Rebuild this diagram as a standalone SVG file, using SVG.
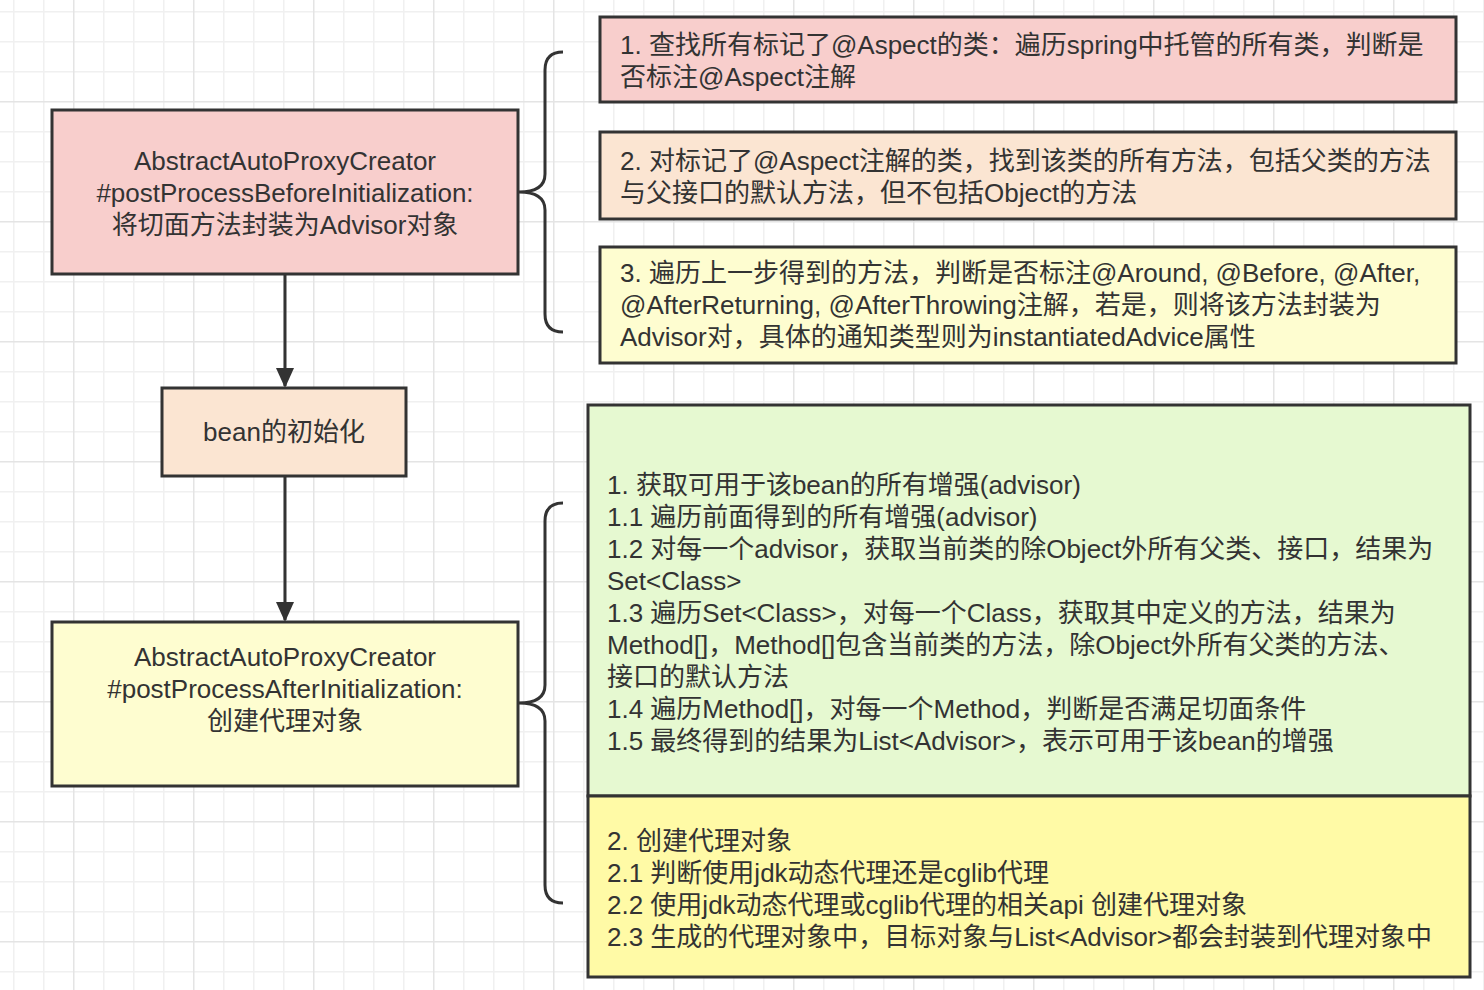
<svg xmlns="http://www.w3.org/2000/svg" width="1484" height="990" viewBox="0 0 1484 990">
<defs>
<pattern id="grid" patternUnits="userSpaceOnUse" x="73" y="101" width="120" height="120">
<rect x="0" y="0" width="120" height="120" fill="#ffffff"/>
<rect x="30" y="0" width="1.5" height="120" fill="#f0f0f0"/>
<rect x="60" y="0" width="1.5" height="120" fill="#f0f0f0"/>
<rect x="90" y="0" width="1.5" height="120" fill="#f0f0f0"/>
<rect x="0" y="30" width="120" height="1.5" fill="#f0f0f0"/>
<rect x="0" y="60" width="120" height="1.5" fill="#f0f0f0"/>
<rect x="0" y="90" width="120" height="1.5" fill="#f0f0f0"/>
<rect x="0" y="0" width="1.5" height="120" fill="#e4e4e4"/>
<rect x="0" y="0" width="120" height="1.5" fill="#e4e4e4"/>
</pattern>
<marker id="arrow" markerUnits="userSpaceOnUse" markerWidth="20" markerHeight="24" refX="18" refY="9" viewBox="0 0 20 18" orient="auto">
<path d="M0,0 L20,9 L0,18 Z" fill="#333333"/>
</marker>
</defs>
<style>
.box{stroke:#333333;stroke-width:3}
.t{font-family:"Liberation Sans","Noto Sans CJK SC",sans-serif;font-size:26px;fill:#333333}
.c{text-anchor:middle}
.edge{stroke:#333333;stroke-width:3;fill:none}
.brace{stroke:#333333;stroke-width:3;fill:none}
</style>
<rect x="0" y="0" width="1484" height="990" fill="url(#grid)"/>

<g id="connectors">
<line class="edge" x1="285" y1="274" x2="285" y2="386" marker-end="url(#arrow)"/>
<line class="edge" x1="285" y1="476" x2="285" y2="620" marker-end="url(#arrow)"/>
<path id="brace-top" class="brace" d="M563,52 Q545,52 545,70 L545,174 Q545,192 519,192 Q545,192 545,210 L545,314 Q545,332 563,332"/>
<path id="brace-bottom" class="brace" d="M563,503 Q545,503 545,521 L545,685 Q545,703 519,703 Q545,703 545,721 L545,885 Q545,903 563,903"/>
</g>

<g id="node-before">
<rect class="box" x="52" y="110" width="466" height="164" fill="#f8cecc"/>
<text class="t c" x="285" y="170">AbstractAutoProxyCreator</text>
<text class="t c" x="285" y="202">#postProcessBeforeInitialization:</text>
<text class="t c" x="285" y="234">将切面方法封装为Advisor对象</text>
</g>

<g id="node-init">
<rect class="box" x="162" y="388" width="244" height="88" fill="#fbe5d2"/>
<text class="t c" x="284" y="441">bean的初始化</text>
</g>

<g id="node-after">
<rect class="box" x="52" y="622" width="466" height="164" fill="#fefdd0"/>
<text class="t c" x="285" y="666">AbstractAutoProxyCreator</text>
<text class="t c" x="285" y="698">#postProcessAfterInitialization:</text>
<text class="t c" x="285" y="730">创建代理对象</text>
</g>

<g id="step-1">
<rect class="box" x="600" y="17" width="856" height="85" fill="#f8cecc"/>
<text class="t" x="620" y="54">1. 查找所有标记了@Aspect的类：遍历spring中托管的所有类，判断是</text>
<text class="t" x="620" y="86">否标注@Aspect注解</text>
</g>

<g id="step-2">
<rect class="box" x="600" y="132" width="856" height="87" fill="#fbe5d2"/>
<text class="t" x="620" y="170">2. 对标记了@Aspect注解的类，找到该类的所有方法，包括父类的方法</text>
<text class="t" x="620" y="202">与父接口的默认方法，但不包括Object的方法</text>
</g>

<g id="step-3">
<rect class="box" x="600" y="247" width="856" height="116" fill="#fefdd0"/>
<text class="t" x="620" y="282">3. 遍历上一步得到的方法，判断是否标注@Around, @Before, @After,</text>
<text class="t" x="620" y="314">@AfterReturning, @AfterThrowing注解，若是，则将该方法封装为</text>
<text class="t" x="620" y="346">Advisor对，具体的通知类型则为instantiatedAdvice属性</text>
</g>

<g id="advisors">
<rect class="box" x="588" y="405" width="882" height="391" fill="#e6f9d1"/>
<text class="t" x="607" y="494">1. 获取可用于该bean的所有增强(advisor)</text>
<text class="t" x="607" y="526">1.1 遍历前面得到的所有增强(advisor)</text>
<text class="t" x="607" y="558">1.2 对每一个advisor，获取当前类的除Object外所有父类、接口，结果为</text>
<text class="t" x="607" y="590">Set&lt;Class&gt;</text>
<text class="t" x="607" y="622">1.3 遍历Set&lt;Class&gt;，对每一个Class，获取其中定义的方法，结果为</text>
<text class="t" x="607" y="654">Method[]，Method[]包含当前类的方法，除Object外所有父类的方法、</text>
<text class="t" x="607" y="686">接口的默认方法</text>
<text class="t" x="607" y="718">1.4 遍历Method[]，对每一个Method，判断是否满足切面条件</text>
<text class="t" x="607" y="750">1.5 最终得到的结果为List&lt;Advisor&gt;，表示可用于该bean的增强</text>
</g>

<g id="create-proxy">
<rect class="box" x="588" y="796" width="882" height="181" fill="#fffaa6"/>
<text class="t" x="607" y="850">2. 创建代理对象</text>
<text class="t" x="607" y="882">2.1 判断使用jdk动态代理还是cglib代理</text>
<text class="t" x="607" y="914">2.2 使用jdk动态代理或cglib代理的相关api 创建代理对象</text>
<text class="t" x="607" y="946">2.3 生成的代理对象中，目标对象与List&lt;Advisor&gt;都会封装到代理对象中</text>
</g>
</svg>
